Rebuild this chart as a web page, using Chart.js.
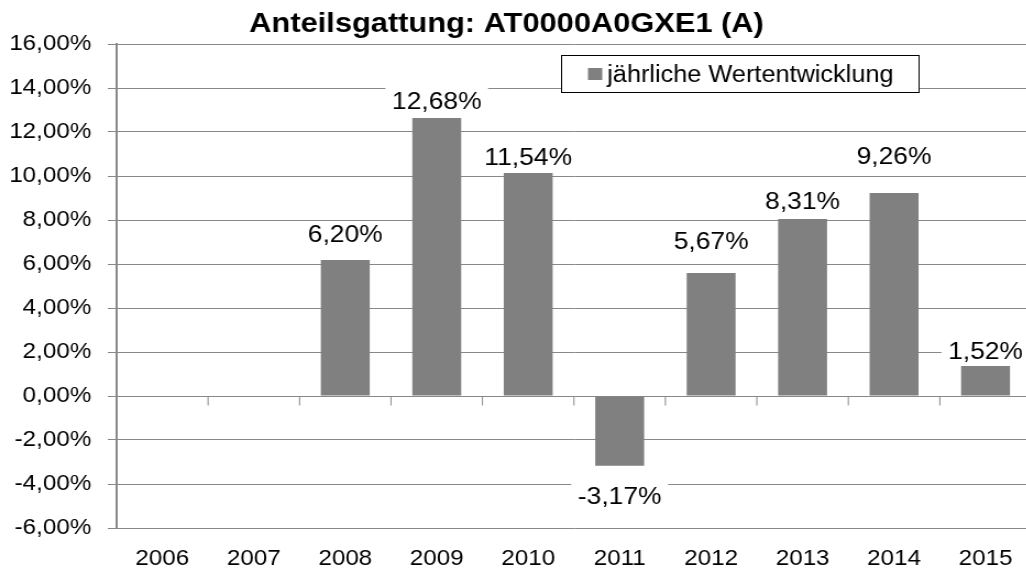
<!DOCTYPE html>
<html>
<head>
<meta charset="utf-8">
<script src="https://cdn.jsdelivr.net/npm/chart.js@4"></script>
<style>
  html, body { margin: 0; padding: 0; background: #fff; overflow: hidden; }
  /* the reference picture is a little wider than tall, so stretch the canvas */
  #wrap { width: 950px; height: 570px; transform: scaleX(1.1); transform-origin: 0 0; }
</style>
</head>
<body>
<div id="wrap"><canvas id="chart"></canvas></div>
<script>
const years = ['2006', '2007', '2008', '2009', '2010', '2011', '2012', '2013', '2014', '2015'];
// bar heights as drawn in the picture
const returns = [null, null, 6.18, 12.64, 10.14, -3.17, 5.59, 8.05, 9.23, 1.36];
// numbers printed above the bars
const returnLabels = [null, null, 6.20, 12.68, 11.54, -3.17, 5.67, 8.31, 9.26, 1.52];
const yMin = -6;
const yMax = 16;
const yStep = 2;
const titleText = 'Anteilsgattung: AT0000A0GXE1 (A)';
const seriesName = 'jährliche Wertentwicklung';

const FONT = "'Liberation Sans', Arial, sans-serif";
const GRID = '#888888';
const BAR = '#808080';

const pct = v => Number(v).toFixed(2).replace('.', ',') + '%';

// small tick marks on the zero line between the years
const zeroTicks = {
  id: 'zeroTicks',
  beforeDatasetsDraw(chart) {
    const { ctx, scales: { x, y } } = chart;
    const y0 = Math.round(y.getPixelForValue(0)) + 0.5;
    const step = (x.right - x.left) / years.length;
    ctx.save();
    ctx.strokeStyle = GRID;
    ctx.lineWidth = 1;
    ctx.beginPath();
    for (let i = 1; i <= years.length; i++) {
      const px = x.left + step * i;
      ctx.moveTo(px, y0);
      ctx.lineTo(px, y0 + 9);
    }
    ctx.stroke();
    ctx.restore();
  }
};

// value labels with white background
const barLabels = {
  id: 'barLabels',
  afterDatasetsDraw(chart, args, opts) {
    const { ctx } = chart;
    const meta = chart.getDatasetMeta(0);
    ctx.save();
    ctx.font = '24px ' + FONT;
    ctx.textAlign = 'center';
    ctx.textBaseline = 'middle';
    meta.data.forEach((bar, i) => {
      const v = returnLabels[i];
      if (v === null || returns[i] === null) return;
      const lift = opts.lift[i];
      const cy = returns[i] >= 0 ? bar.y - lift : bar.y + lift;
      const txt = pct(v);
      const w = ctx.measureText(txt).width + 12;
      ctx.fillStyle = '#fff';
      ctx.fillRect(bar.x - w / 2, cy - 13, w, 26);
      ctx.fillStyle = '#000';
      ctx.fillText(txt, bar.x, cy + 1);
    });
    ctx.restore();
  }
};

// title and boxed legend
const frame = {
  id: 'frame',
  afterDraw(chart) {
    const { ctx } = chart;
    ctx.save();
    ctx.fillStyle = '#000';
    ctx.font = 'bold 28px ' + FONT;
    ctx.textAlign = 'center';
    ctx.textBaseline = 'alphabetic';
    ctx.fillText(titleText, 460.5, 32);

    ctx.fillStyle = '#fff';
    ctx.fillRect(510, 55, 325.5, 38);
    ctx.strokeStyle = '#000';
    ctx.lineWidth = 1;
    ctx.strokeRect(510.5, 55.5, 325, 37);
    ctx.fillStyle = BAR;
    ctx.fillRect(534.5, 68, 13, 12);
    ctx.fillStyle = '#000';
    ctx.font = '23px ' + FONT;
    ctx.textAlign = 'left';
    ctx.fillText(seriesName, 552, 82);
    ctx.restore();
  }
};

new Chart(document.getElementById('chart'), {
  type: 'bar',
  data: {
    labels: years,
    datasets: [{
      label: seriesName,
      data: returns,
      backgroundColor: BAR,
      borderWidth: 0,
      barPercentage: 0.535,
      categoryPercentage: 1
    }]
  },
  options: {
    responsive: true,
    maintainAspectRatio: false,
    animation: false,
    layout: { padding: { top: 44, right: 12.5, bottom: 0, left: 0 } },
    plugins: {
      legend: { display: false },
      title: { display: false },
      tooltip: { enabled: false },
      barLabels: { lift: [0, 0, 26, 17, 16, 31, 32, 18, 37, 15] }
    },
    scales: {
      x: {
        grid: { display: false },
        border: { display: false },
        ticks: { color: '#000', font: { family: FONT, size: 22 }, padding: 10, maxRotation: 0 },
        afterFit: s => { s.height = 42; }
      },
      y: {
        min: yMin,
        max: yMax,
        ticks: { stepSize: yStep, callback: pct, color: '#000', font: { family: FONT, size: 22 }, padding: 15 },
        grid: { color: GRID, lineWidth: 1, tickLength: 8 },
        border: { color: GRID, width: 2 },
        afterFit: s => { s.width = 106; }
      }
    }
  },
  plugins: [zeroTicks, barLabels, frame]
});
</script>
</body>
</html>
